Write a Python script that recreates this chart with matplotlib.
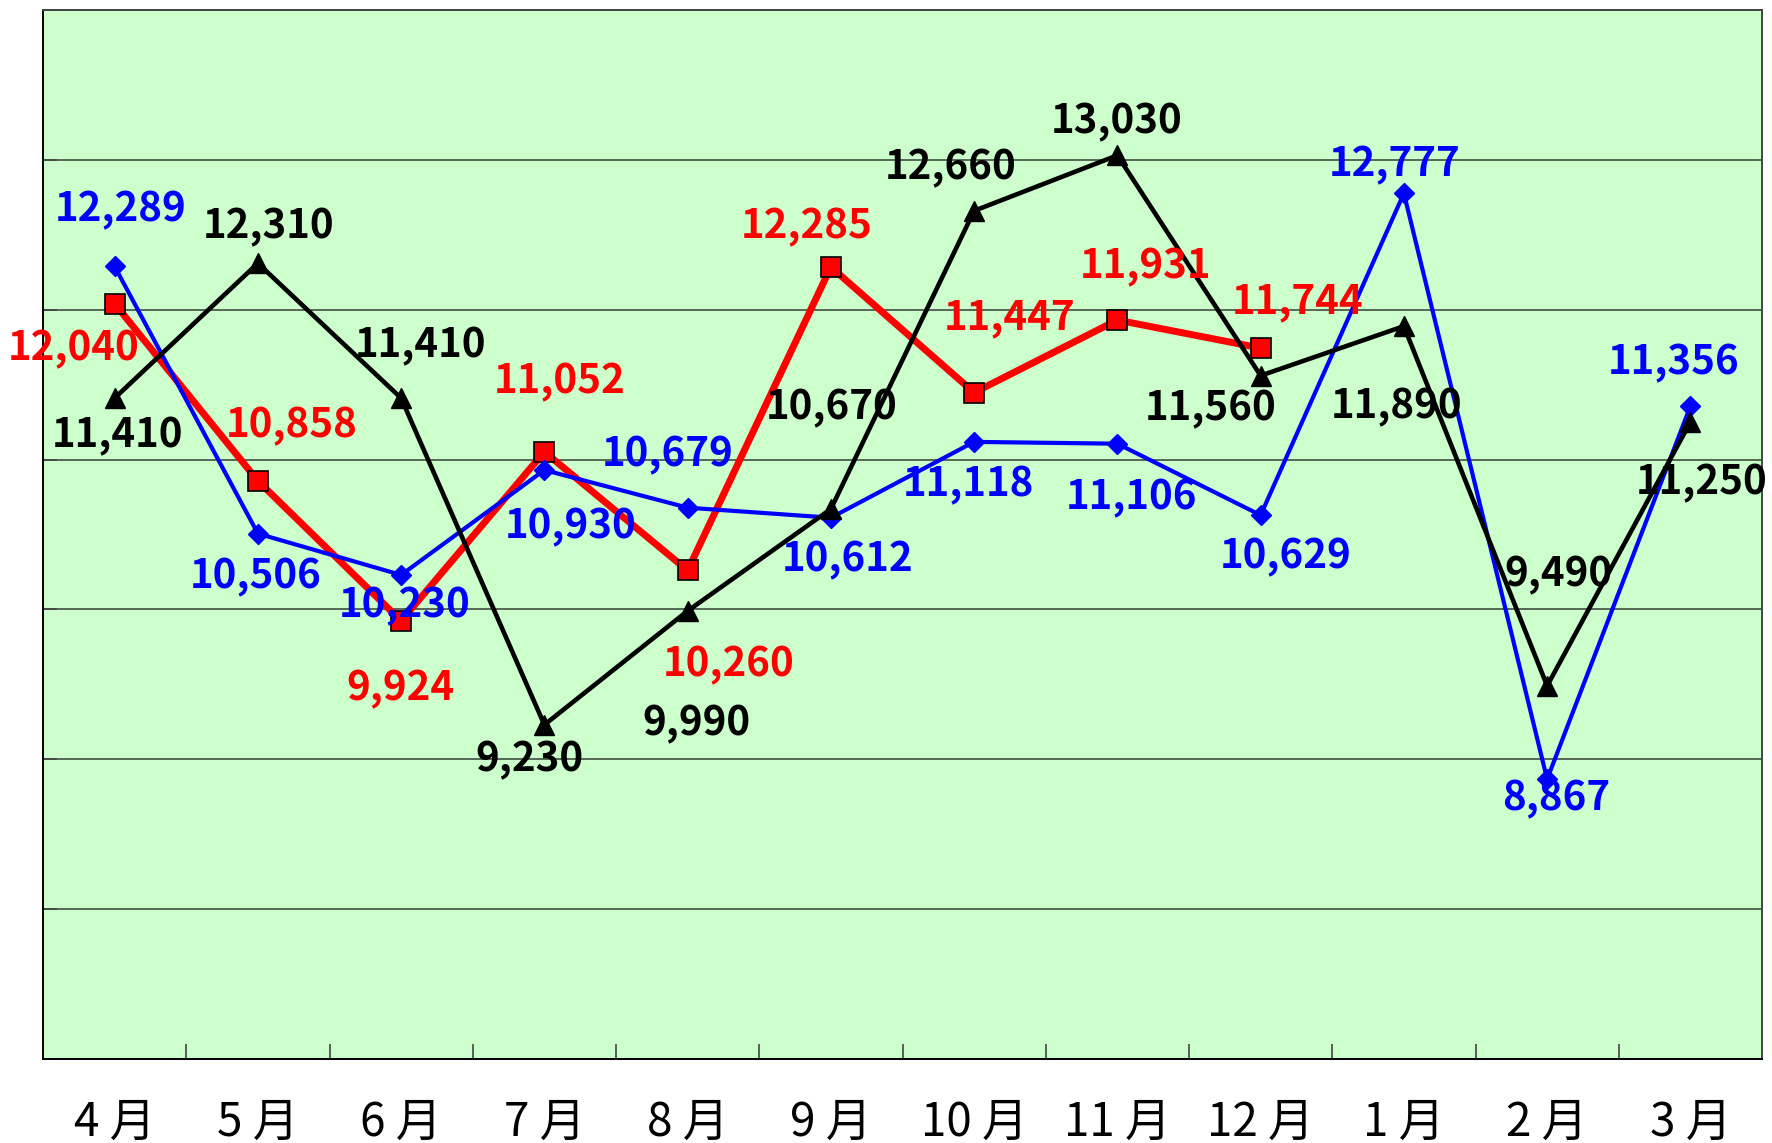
import matplotlib
matplotlib.use("Agg")
import matplotlib.pyplot as plt
import numpy as np

plt.rcParams['font.family'] = ['Noto Sans CJK JP', 'DejaVu Sans']

months = ['4月', '5月', '6月', '7月', '8月', '9月', '10月', '11月', '12月', '1月', '2月', '3月']
red_vals = [12040, 10858, 9924, 11052, 10260, 12285, 11447, 11931, 11744]
blue_vals = [12289, 10506, 10230, 10930, 10679, 10612, 11118, 11106, 10629, 12777, 8867, 11356]
black_vals = [11410, 12310, 11410, 9230, 9990, 10670, 12660, 13030, 11560, 11890, 9490, 11250]

# label offsets (pixels) from each point
red_off = [(-41, -45), (34, 55), (-1, -68), (15, 70), (41, -94), (-24, 40), (35, 75), (28, 53), (37, 46)]
blue_off = [(6, 57), (-2, -43), (3, -31), (26, -57), (-20, 53), (17, -42), (-6, -43), (14, -54),
            (25, -42), (-9, 29), (9, -20), (-17, 43)]
black_off = [(3, -38), (11, 36), (19, 52), (-15, -35), (9, -113), (1, 101), (-23, 43), (-1, 34),
             (-50, -33), (-7, -81), (11, 111), (11, -61)]

fig = plt.figure(figsize=(17.72, 11.43), dpi=100)
ax = fig.add_axes([43 / 1772, 84 / 1143, 1719 / 1772, 1049 / 1143])
ax.set_facecolor('#CCFFCC')

x = np.arange(len(months))
ax.plot(x[:len(red_vals)], red_vals, color='#FF0000', lw=5, marker='s', ms=15,
        mfc='#FF0000', mec='black', mew=1.2, zorder=3)
ax.plot(x, blue_vals, color='#0000FF', lw=3, marker='D', ms=10,
        mfc='#0000FF', mec='#0000FF', zorder=4)
ax.plot(x, black_vals, color='black', lw=3.3, marker='^', ms=14,
        mfc='black', mec='black', zorder=5)

lab_kw = dict(textcoords='offset pixels', ha='center', va='center',
              fontsize=29, fontweight='bold', zorder=10)
for i, v in enumerate(red_vals):
    ax.annotate(f'{v:,}', (x[i], v), xytext=red_off[i], color='#FF0000', **lab_kw)
for i, v in enumerate(blue_vals):
    ax.annotate(f'{v:,}', (x[i], v), xytext=blue_off[i], color='#0000FF', **lab_kw)
for i, v in enumerate(black_vals):
    ax.annotate(f'{v:,}', (x[i], v), xytext=black_off[i], color='black', **lab_kw)

ax.set_xlim(-0.5, len(months) - 0.5)
ax.set_ylim(7000, 14000)
ax.set_yticks(np.arange(7000, 14001, 1000))
ax.yaxis.grid(True, color='#556655', lw=1.4)
ax.set_axisbelow(True)
ax.tick_params(axis='y', direction='in', length=10, width=1.2, labelleft=False, color='#444444')

ax.set_xticks(x)
ax.set_xticklabels([m[:-1] + ' ' + m[-1] for m in months], fontsize=33)
ax.set_xticks(np.arange(0.5, len(months) - 0.5, 1), minor=True)
ax.tick_params(axis='x', which='major', length=0, pad=28)
ax.tick_params(axis='x', which='minor', direction='in', length=11, width=1.2, color='#444444')

for s in ax.spines.values():
    s.set_color('#444444')
    s.set_linewidth(1.4)
ax.spines['bottom'].set_color('black')
ax.spines['left'].set_color('black')

fig.savefig('out.png', dpi=100, facecolor='white')
